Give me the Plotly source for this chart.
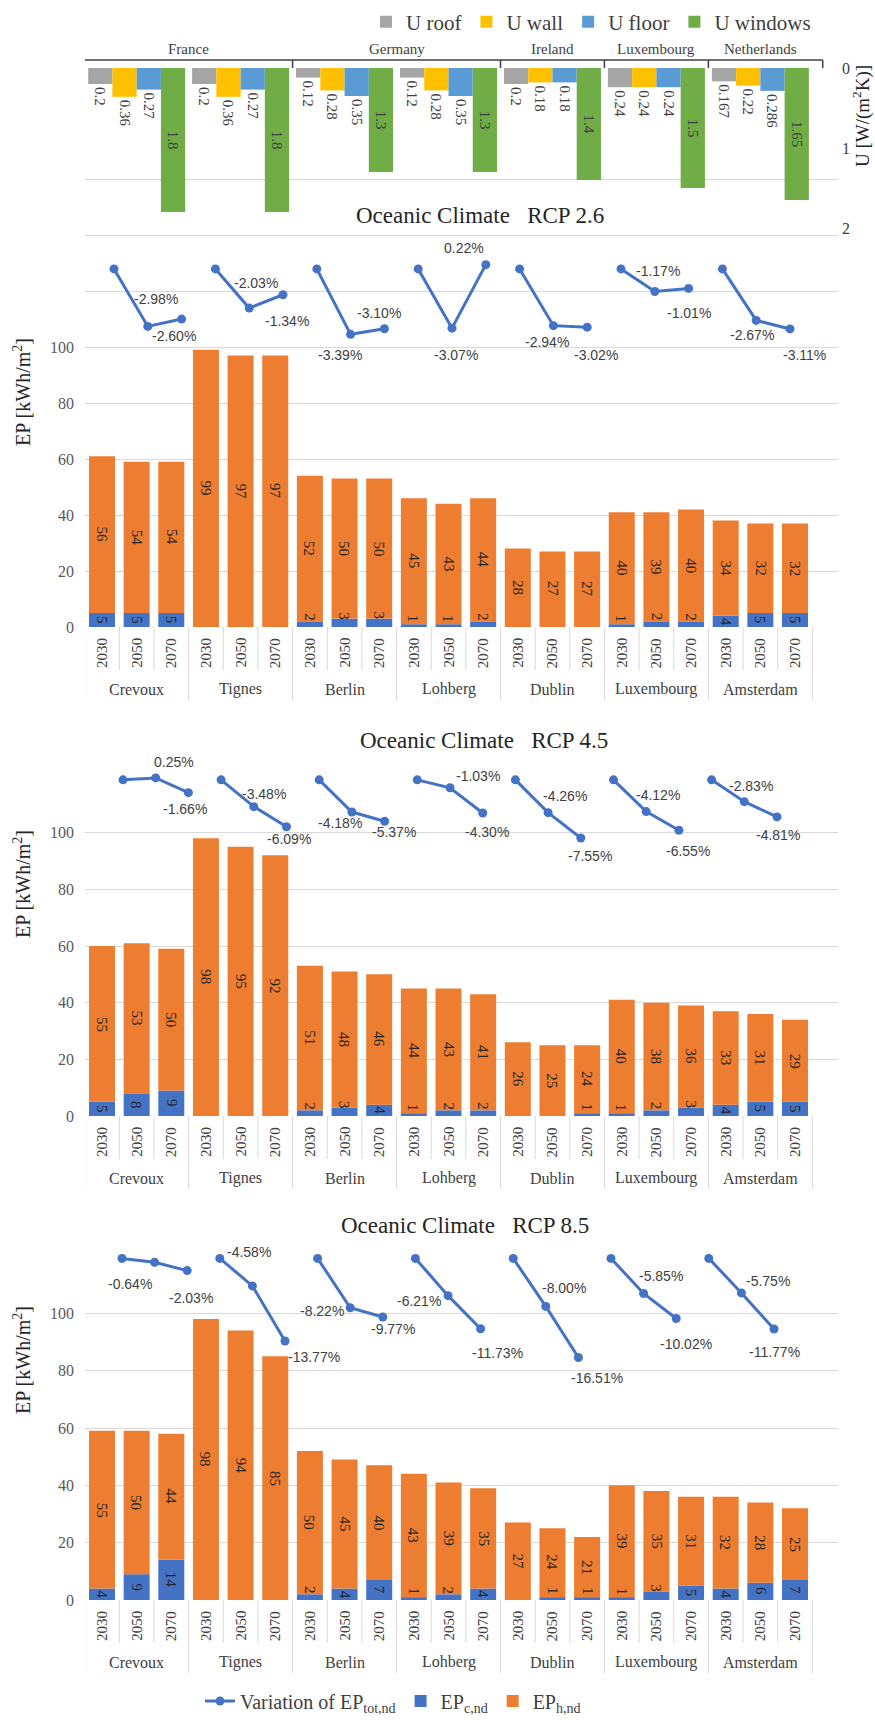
import plotly.graph_objects as go

W, H = 875, 1720

# ---------------- data ----------------
CITIES = ["Crevoux", "Tignes", "Berlin", "Lohberg", "Dublin", "Luxembourg", "Amsterdam"]
YEARS = ["2030", "2050", "2070"]
COUNTRIES = ["France", "Germany", "Ireland", "Luxembourg", "Netherlands"]
CITIES_PER_COUNTRY = [2, 2, 1, 1, 1]

U_NAMES = ["U roof", "U wall", "U floor", "U windows"]
U_ROOF = [0.2, 0.2, 0.12, 0.12, 0.2, 0.24, 0.167]
U_WALL = [0.36, 0.36, 0.28, 0.28, 0.18, 0.24, 0.22]
U_FLOOR = [0.27, 0.27, 0.35, 0.35, 0.18, 0.24, 0.286]
U_WINDOWS = [1.8, 1.8, 1.3, 1.3, 1.4, 1.5, 1.65]

EPH_26 = [56, 54, 54, 99, 97, 97, 52, 50, 50, 45, 43, 44, 28, 27, 27, 40, 39, 40, 34, 32, 32]
EPC_26 = [5, 5, 5, 0, 0, 0, 2, 3, 3, 1, 1, 2, 0, 0, 0, 1, 2, 2, 4, 5, 5]
VAR_26 = [0, -2.98, -2.60, 0, -2.03, -1.34, 0, -3.39, -3.10, 0, -3.07, 0.22,
          0, -2.94, -3.02, 0, -1.17, -1.01, 0, -2.67, -3.11]

EPH_45 = [55, 53, 50, 98, 95, 92, 51, 48, 46, 44, 43, 41, 26, 25, 24, 40, 38, 36, 33, 31, 29]
EPC_45 = [5, 8, 9, 0, 0, 0, 2, 3, 4, 1, 2, 2, 0, 0, 1, 1, 2, 3, 4, 5, 5]
VAR_45 = [0, 0.25, -1.66, 0, -3.48, -6.09, 0, -4.18, -5.37, 0, -1.03, -4.30,
          0, -4.26, -7.55, 0, -4.12, -6.55, 0, -2.83, -4.81]

EPH_85 = [55, 50, 44, 98, 94, 85, 50, 45, 40, 43, 39, 35, 27, 24, 21, 39, 35, 31, 32, 28, 25]
EPC_85 = [4, 9, 14, 0, 0, 0, 2, 4, 7, 1, 2, 4, 0, 1, 1, 1, 3, 5, 4, 6, 7]
VAR_85 = [0, -0.64, -2.03, 0, -4.58, -13.77, 0, -8.22, -9.77, 0, -6.21, -11.73,
          0, -8.00, -16.51, 0, -5.85, -10.02, 0, -5.75, -11.77]

# ---------------- style ----------------
FONT = "Liberation Serif, Times New Roman, serif"
SANS = "Liberation Sans, Arial, sans-serif"
GRID = "#d9d9d9"
TXT = "#404040"
C_COL = "#4472c4"
H_COL = "#ed7d31"
LINE_COL = "#4472c4"
U_COLS = ["#a5a5a5", "#ffc000", "#5b9bd5", "#70ad47"]

PLOT_L, PLOT_R = 85, 838
BAR_C0, BAR_STEP = 102, 34.65
BAR_W = 0.75
U_BAR_W = 0.70


def fx(p):
    return p / W


def fy(p):
    return 1 - p / H


def sfx(n):
    return "" if n == 1 else str(n)


n_cat = len(CITIES) * len(YEARS)
cat_idx = list(range(n_cat))
bar_a = -(BAR_C0 - PLOT_L) / BAR_STEP
bar_range = [bar_a, bar_a + (PLOT_R - PLOT_L) / BAR_STEP]

# line_y = (top of secondary range in %, pixels per %)
CHARTS = [
    dict(title="Oceanic Climate\u00a0\u00a0 RCP 2.6", h=EPH_26, c=EPC_26, v=VAR_26,
         top=123, zero=627, ymax=180, title_xy=(480, 215), ep_y=392,
         line_x=(114, 33.8), line_y=(7.56, 19.3),
         offs=[(8, -27), (-8, 17), (7, -25), (4, 26), (-11, 21), (-5, -16), (4, 27),
               (-22, -17), (-6, 16), (9, 28), (3, -20), (0, 25), (-4, 15), (14, 26)]),
    dict(title="Oceanic Climate\u00a0\u00a0 RCP 4.5", h=EPH_45, c=EPC_45, v=VAR_45,
         top=776, zero=1116, ymax=120, title_xy=(484, 740), ep_y=884,
         line_x=(123, 32.7), line_y=(0.5, 7.7),
         offs=[(18, -16), (-3, 16), (10, -13), (2, 12), (-12, 11), (9, 11), (28, -12),
               (4, 19), (17, -17), (9, 18), (12, -17), (9, 21), (7, -16), (1, 18)]),
    dict(title="Oceanic Climate\u00a0\u00a0 RCP 8.5", h=EPH_85, c=EPC_85, v=VAR_85,
         top=1256, zero=1600, ymax=120, title_xy=(465, 1225), ep_y=1360,
         line_x=(122, 32.6), line_y=(0.4, 6.0),
         offs=[(-25, 22), (4, 27), (-3, -34), (29, 16), (-28, 3), (10, 12), (-29, 5),
               (17, 24), (18, -18), (19, 21), (17, -18), (10, 25), (27, -12), (0, 23)]),
]

fig = go.Figure()
layout = {}
shapes = []
annotations = []

for k, ch in enumerate(CHARTS):
    bn, ln = 2 * k + 1, 2 * k + 2
    xa, ya = "x" + sfx(bn), "y" + sfx(bn)
    xl, yl = "x" + sfx(ln), "y" + sfx(ln)
    top, zero, ymax = ch["top"], ch["zero"], ch["ymax"]

    fig.add_trace(go.Bar(x=cat_idx, y=ch["c"], width=BAR_W, marker=dict(color=C_COL, line=dict(width=0)),
                         name="EP<sub>c,nd</sub>", legendrank=2, showlegend=(k == 0),
                         xaxis=xa, yaxis=ya, hoverinfo="skip"))
    fig.add_trace(go.Bar(x=cat_idx, y=ch["h"], base=ch["c"], width=BAR_W,
                         marker=dict(color=H_COL, line=dict(width=0)),
                         name="EP<sub>h,nd</sub>", legendrank=3, showlegend=(k == 0),
                         xaxis=xa, yaxis=ya, hoverinfo="skip"))

    lxs, lys = [], []
    for ci in range(len(CITIES)):
        for yi in range(len(YEARS)):
            i = ci * len(YEARS) + yi
            lxs.append(i)
            lys.append(ch["v"][i])
        lxs.append(None)
        lys.append(None)
    fig.add_trace(go.Scatter(x=lxs, y=lys, mode="lines+markers", connectgaps=False,
                             line=dict(color=LINE_COL, width=3),
                             marker=dict(color=LINE_COL, size=9),
                             name="Variation of EP<sub>tot,nd</sub>", legendrank=1,
                             showlegend=(k == 0), xaxis=xl, yaxis=yl, hoverinfo="skip",
                             cliponaxis=False))

    layout["xaxis" + sfx(bn)] = dict(domain=[fx(PLOT_L), fx(PLOT_R)], range=bar_range, anchor=ya,
                                     showticklabels=False, showgrid=False, zeroline=False,
                                     showline=False, ticks="", fixedrange=True)
    layout["yaxis" + sfx(bn)] = dict(domain=[fy(zero), fy(top)], range=[0, ymax], anchor=xa,
                                     tickvals=list(range(0, 101, 20)),
                                     showgrid=True, gridcolor=GRID, gridwidth=1, zeroline=False,
                                     showline=False, ticks="",
                                     minor=dict(tickvals=list(range(120, ymax + 1, 20)), showgrid=True,
                                                gridcolor=GRID, gridwidth=1, ticks=""),
                                     tickfont=dict(size=16, family=FONT, color="#595959"),
                                     ticklabelstandoff=10)
    ls, lstep = ch["line_x"]
    la = -(ls - PLOT_L) / lstep
    layout["xaxis" + sfx(ln)] = dict(overlaying=xa, range=[la, la + (PLOT_R - PLOT_L) / lstep],
                                     visible=False, anchor=yl)
    rtop, spp = ch["line_y"]
    layout["yaxis" + sfx(ln)] = dict(overlaying=ya, range=[rtop - (zero - top) / spp, rtop],
                                     visible=False, anchor=xl)

    # category separators
    for b in range(n_cat + 1):
        major = (b % len(YEARS) == 0)
        shapes.append(dict(type="line", xref=xa, yref="paper", x0=b - 0.5, x1=b - 0.5,
                           y0=fy(zero), y1=fy(zero + (73 if major else 43)),
                           line=dict(color=GRID, width=1)))
    for i in cat_idx:
        annotations.append(dict(x=i, y=fy(zero + 26), xref=xa, yref="paper", text=YEARS[i % 3],
                                textangle=-90, showarrow=False,
                                font=dict(size=15, family=FONT, color=TXT)))
    for ci, cname in enumerate(CITIES):
        annotations.append(dict(x=ci * 3 + 1, y=fy(zero + 62), xref=xa, yref="paper", text=cname,
                                showarrow=False, font=dict(size=16, family=FONT, color=TXT)))
    # bar labels
    for i in cat_idx:
        h, c = ch["h"][i], ch["c"][i]
        annotations.append(dict(x=i, y=c + h / 2, xref=xa, yref=ya, text=str(h), textangle=90,
                                showarrow=False, font=dict(size=15, family=FONT, color="#262626")))
        if c >= 1:
            yc = c / 2 if c >= 4 else c / 2 + 2.5
            annotations.append(dict(x=i, y=yc, xref=xa, yref=ya, text=str(c), textangle=90,
                                    showarrow=False, font=dict(size=15, family=FONT, color="#262626")))
    # variation labels
    li = 0
    for i in cat_idx:
        if i % 3 == 0:
            continue
        dx, dy = ch["offs"][li]
        li += 1
        v = ch["v"][i]
        annotations.append(dict(x=i, y=v, xref=xl, yref=yl, text=f"{v:.2f}%", showarrow=False,
                                xshift=dx, yshift=-dy,
                                font=dict(size=14, family=SANS, color=TXT)))
    # titles
    tx, ty = ch["title_xy"]
    annotations.append(dict(x=fx(tx), y=fy(ty), xref="paper", yref="paper", text=ch["title"],
                            showarrow=False, font=dict(size=23, family=FONT, color="#262626")))
    annotations.append(dict(x=fx(22), y=fy(ch["ep_y"]), xref="paper", yref="paper",
                            text="EP [kWh/m<sup>2</sup>]", textangle=-90, showarrow=False,
                            font=dict(size=20, family=FONT, color="#262626")))

# ---------------- U chart ----------------
U_VALUES = [U_ROOF, U_WALL, U_FLOOR, U_WINDOWS]
for j, (name, vals, col) in enumerate(zip(U_NAMES, U_VALUES, U_COLS)):
    xs = [3 * g + 1 + (j - 1.5) * U_BAR_W for g in range(len(CITIES))]
    fig.add_trace(go.Bar(x=xs, y=vals, width=U_BAR_W, marker=dict(color=col, line=dict(width=0)),
                         name=name, legend="legend2",
                         text=[str(v) for v in vals],
                         textposition="inside" if j == 3 else "outside",
                         insidetextanchor="middle", textangle=90, constraintext="none",
                         textfont=dict(size=15, family=FONT, color=TXT), cliponaxis=False,
                         xaxis="x7", yaxis="y7", hoverinfo="skip"))

layout["xaxis7"] = dict(domain=[fx(PLOT_L), fx(PLOT_R)], range=bar_range, anchor="y7", visible=False)
layout["yaxis7"] = dict(domain=[fy(228), fy(68)], range=[2, 0], anchor="x7", side="right",
                        tickvals=[0, 1, 2], showgrid=False, zeroline=False, showline=False, ticks="",
                        tickfont=dict(size=16, family=FONT, color=TXT), ticklabelstandoff=3)

annotations.append(dict(x=fx(862), y=fy(116), xref="paper", yref="paper",
                        text="U [W/(m<sup>2</sup>K)]", textangle=-90, showarrow=False,
                        font=dict(size=19, family=FONT, color="#262626")))

# country bracket
cum = [0]
for n in CITIES_PER_COUNTRY:
    cum.append(cum[-1] + n)
xb = [3 * c - 0.5 for c in cum]
xb_draw = list(xb)
xb_draw[0] -= 0.05
xb_draw[-1] += 0.3
shapes.append(dict(type="line", xref="x7", yref="paper", x0=xb_draw[0], x1=xb_draw[-1],
                   y0=fy(60), y1=fy(60), line=dict(color=TXT, width=1.5)))
for xv in xb_draw:
    shapes.append(dict(type="line", xref="x7", yref="paper", x0=xv, x1=xv,
                       y0=fy(60), y1=fy(68), line=dict(color=TXT, width=1.5)))
for ci, cname in enumerate(COUNTRIES):
    annotations.append(dict(x=(xb[ci] + xb[ci + 1]) / 2, y=fy(49), xref="x7", yref="paper",
                            text=cname, showarrow=False, font=dict(size=15, family=FONT, color=TXT)))

for a in annotations:
    a.setdefault("xanchor", "center")
    a.setdefault("yanchor", "middle")

fig.update_layout(
    width=W, height=H, autosize=False,
    margin=dict(l=0, r=0, t=0, b=0, autoexpand=False),
    paper_bgcolor="white", plot_bgcolor="rgba(0,0,0,0)",
    barmode="overlay",
    font=dict(family=FONT, color=TXT),
    showlegend=True,
    legend=dict(orientation="h", x=fx(200), xanchor="left", y=fy(1701), yanchor="middle",
                itemwidth=30, font=dict(size=20, family=FONT, color=TXT), bgcolor="rgba(0,0,0,0)"),
    legend2=dict(orientation="h", x=fx(591), xanchor="center", y=fy(22), yanchor="middle",
                 itemwidth=30, font=dict(size=21, family=FONT, color=TXT), bgcolor="rgba(0,0,0,0)"),
    shapes=shapes,
    annotations=annotations,
    **layout,
)

fig.write_html("out.html")
